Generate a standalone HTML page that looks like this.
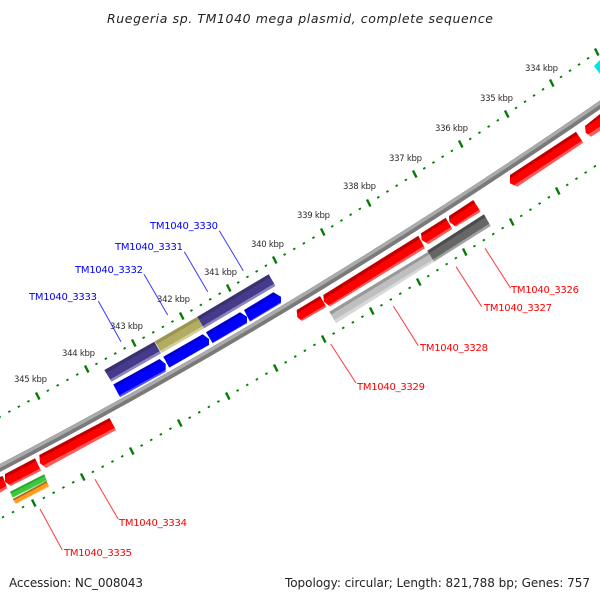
<!DOCTYPE html>
<html><head><meta charset="utf-8"><style>html,body{margin:0;padding:0;background:#fff}svg{display:block}</style></head>
<body>
<svg xmlns="http://www.w3.org/2000/svg" width="600" height="600" viewBox="0 0 600 600" font-family="'DejaVu Sans',sans-serif">
<defs>
<linearGradient id="gR"><stop offset=".24" stop-color="#c00000"/><stop offset=".24" stop-color="#f00"/><stop offset=".82" stop-color="#f00"/><stop offset=".82" stop-color="#ff5a5a"/></linearGradient>
<linearGradient id="gB"><stop offset=".2" stop-color="#0000c8"/><stop offset=".2" stop-color="#00f"/><stop offset=".85" stop-color="#00f"/><stop offset=".85" stop-color="#5050ff"/></linearGradient>
<linearGradient id="gP"><stop offset=".25" stop-color="#3a3170"/><stop offset=".25" stop-color="#463a8c"/><stop offset=".8" stop-color="#463a8c"/><stop offset=".8" stop-color="#8a84b8"/></linearGradient>
<linearGradient id="gO"><stop offset=".25" stop-color="#9a954f"/><stop offset=".25" stop-color="#b3ad62"/><stop offset=".8" stop-color="#b3ad62"/><stop offset=".8" stop-color="#d2cf9c"/></linearGradient>
<linearGradient id="gL"><stop offset=".25" stop-color="#999"/><stop offset=".25" stop-color="#bfbfbf"/><stop offset=".8" stop-color="#bfbfbf"/><stop offset=".8" stop-color="#d8d8d8"/></linearGradient>
<linearGradient id="gD"><stop offset=".25" stop-color="#4c4c4c"/><stop offset=".25" stop-color="#666"/><stop offset=".8" stop-color="#666"/><stop offset=".8" stop-color="#a0a0a0"/></linearGradient>
<linearGradient id="gG"><stop offset=".25" stop-color="#2da62d"/><stop offset=".25" stop-color="#3cc83c"/><stop offset=".8" stop-color="#3cc83c"/><stop offset=".8" stop-color="#70dc70"/></linearGradient>
<linearGradient id="gY"><stop offset=".25" stop-color="#b06a20"/><stop offset=".25" stop-color="#ff9c1e"/><stop offset=".8" stop-color="#ff9c1e"/><stop offset=".8" stop-color="#ffc468"/></linearGradient>
<linearGradient id="b1" href="#gB" gradientUnits="userSpaceOnUse" x1="159.5" y1="359" x2="166.5" y2="371.6"/>
<linearGradient id="b2" href="#gB" gradientUnits="userSpaceOnUse" x1="202.7" y1="334.3" x2="209.8" y2="346.8"/>
<linearGradient id="b3" href="#gB" gradientUnits="userSpaceOnUse" x1="240" y1="312.3" x2="247.3" y2="324.7"/>
<linearGradient id="b4" href="#gB" gradientUnits="userSpaceOnUse" x1="273.3" y1="292.3" x2="280.8" y2="304.7"/>
<linearGradient id="p1" href="#gP" gradientUnits="userSpaceOnUse" x1="268.7" y1="274.3" x2="275.6" y2="285.9"/>
<linearGradient id="o1" href="#gO" gradientUnits="userSpaceOnUse" x1="197.3" y1="316.7" x2="204.1" y2="328.4"/>
<linearGradient id="p2" href="#gP" gradientUnits="userSpaceOnUse" x1="154.3" y1="341.7" x2="161" y2="353.4"/>
<linearGradient id="r1" href="#gR" gradientUnits="userSpaceOnUse" x1="320" y1="296" x2="326.6" y2="307"/>
<linearGradient id="r2" href="#gR" gradientUnits="userSpaceOnUse" x1="418.3" y1="235.7" x2="425.8" y2="247.7"/>
<linearGradient id="r3" href="#gR" gradientUnits="userSpaceOnUse" x1="445.7" y1="217.7" x2="452.6" y2="228.7"/>
<linearGradient id="r4" href="#gR" gradientUnits="userSpaceOnUse" x1="473.3" y1="200" x2="480.9" y2="211.5"/>
<linearGradient id="r5" href="#gR" gradientUnits="userSpaceOnUse" x1="576" y1="131.7" x2="583.2" y2="142.7"/>
<linearGradient id="r6" href="#gR" gradientUnits="userSpaceOnUse" x1="600" y1="114" x2="607" y2="125"/>
<linearGradient id="l1" href="#gR" gradientUnits="userSpaceOnUse" x1="109.5" y1="418" x2="115.8" y2="430"/>
<linearGradient id="l2" href="#gR" gradientUnits="userSpaceOnUse" x1="35" y1="458.3" x2="41.4" y2="470.5"/>
<linearGradient id="l3" href="#gR" gradientUnits="userSpaceOnUse" x1="2.7" y1="476" x2="8.7" y2="487.3"/>
<linearGradient id="g1" href="#gL" gradientUnits="userSpaceOnUse" x1="428.3" y1="251.7" x2="434.3" y2="261.5"/>
<linearGradient id="g2" href="#gD" gradientUnits="userSpaceOnUse" x1="484" y1="214.3" x2="491.2" y2="225.6"/>
<linearGradient id="g3" href="#gG" gradientUnits="userSpaceOnUse" x1="44.3" y1="474.3" x2="47.6" y2="480.7"/>
<linearGradient id="g4" href="#gY" gradientUnits="userSpaceOnUse" x1="46.7" y1="481" x2="49.7" y2="486.6"/>
</defs>

<!-- backbone -->
<path d="M-10 473.2Q300 312.3 610 98" fill="none" stroke="#7a7a7a" stroke-width="7.2"/>
<path d="M-10 473.2Q300 312.3 610 98" fill="none" stroke="#ababab" stroke-width="3.2" transform="translate(-.9,-1.5)"/>

<!-- upper scale -->
<g stroke="#007d00" fill="none">
<path stroke-width="2.4" d="M36 392.5l3.5 7M85 365.5l3.5 7M132 339.5l3.5 7M180 312.5l3.5 7M227 284.5l3.5 7M273 256.5l3.5 7M321 228.5l3.5 7M367 199.5l3.5 7M413 170.5l3.5 7M459 140.5l3.5 7M505 110.5l3.5 7M550 79.5l3.5 7M595 48.5l3.5 7"/>
<path stroke-width="2.4" d="M-.8 416.2l.9 1.6M8.9 410.8l.9 1.6M18.4 405.8l.9 1.6M28 400.5l.9 1.6M47.4 389.8l.9 1.6M57.2 384.5l.9 1.6M67 379.1l.9 1.6M76.8 373.7l.9 1.6M96 363.1l.9 1.6M105.4 357.9l.9 1.6M114.8 352.7l.9 1.6M124.2 347.5l.9 1.6M143.2 336.9l.9 1.6M152.8 331.5l.9 1.6M162.4 326.1l.9 1.6M172 320.7l.9 1.6M191 309.7l.9 1.6M200.4 304.1l.9 1.6M209.8 298.5l.9 1.6M219.2 292.9l.9 1.6M237.8 281.7l.9 1.6M247 276.1l.9 1.6M256.2 270.5l.9 1.6M265.4 264.9l.9 1.6M284.2 253.7l.9 1.6M293.8 248.1l.9 1.6M303.4 242.5l.9 1.6M313 236.9l.9 1.6M331.8 225.5l.9 1.6M341 219.7l.9 1.6M350.2 213.9l.9 1.6M359.4 208.1l.9 1.6M377.8 196.5l.9 1.6M387 190.7l.9 1.6M396.2 184.9l.9 1.6M405.4 179.1l.9 1.6M423.8 167.5l.9 1.6M433 161.7l.9 1.6M442.2 155.9l.9 1.6M451.4 150.1l.9 1.6M469.8 138.1l.9 1.6M479 131.9l.9 1.6M488.2 125.7l.9 1.6M497.4 119.5l.9 1.6M515.6 107.1l.9 1.6M524.6 100.9l.9 1.6M533.6 94.7l.9 1.6M542.6 88.5l.9 1.6M560.6 76.1l.9 1.6M569.6 69.9l.9 1.6M578.6 63.7l.9 1.6M587.6 57.5l.9 1.6"/>
<!-- lower scale -->
<path stroke-width="2.4" d="M32 499.5l3.5 7M81 473.5l3.5 7M130 447.5l3.5 7M178 419.5l3.5 7M226 392.5l3.5 7M274 364.5l3.5 7M322 335.5l3.5 7M370 307.5l3.5 7M417 278.5l3.5 7M463 248.5l3.5 7M510 218.5l3.5 7M556 187.5l3.5 7M602 156.5l3.5 7"/>
<path stroke-width="2.4" d="M2.6 516.3l.9 1.6M12.6 511.3l.9 1.6M22.6 506.3l.9 1.6M43.4 497.1l.9 1.6M53.2 491.9l.9 1.6M63 486.7l.9 1.6M72.8 481.5l.9 1.6M92.4 471.1l.9 1.6M102.2 465.9l.9 1.6M112 460.7l.9 1.6M121.8 455.5l.9 1.6M141.2 444.7l.9 1.6M150.8 439.1l.9 1.6M160.4 433.5l.9 1.6M170 427.9l.9 1.6M189.2 416.9l.9 1.6M198.8 411.5l.9 1.6M208.4 406.1l.9 1.6M218 400.7l.9 1.6M237.2 389.7l.9 1.6M246.8 384.1l.9 1.6M256.4 378.5l.9 1.6M266 372.9l.9 1.6M285.2 361.5l.9 1.6M294.8 355.7l.9 1.6M304.4 349.9l.9 1.6M314 344.1l.9 1.6M333.2 332.7l.9 1.6M342.8 327.1l.9 1.6M352.4 321.5l.9 1.6M362 315.9l.9 1.6M381 304.5l.9 1.6M390.4 298.7l.9 1.6M399.8 292.9l.9 1.6M409.2 287.1l.9 1.6M427.8 275.3l.9 1.6M437 269.3l.9 1.6M446.2 263.3l.9 1.6M455.4 257.3l.9 1.6M474 245.3l.9 1.6M483.4 239.3l.9 1.6M492.8 233.3l.9 1.6M502.2 227.3l.9 1.6M520.8 215.1l.9 1.6M530 208.9l.9 1.6M539.2 202.7l.9 1.6M548.4 196.5l.9 1.6M566.8 184.1l.9 1.6M576 177.9l.9 1.6M585.2 171.7l.9 1.6M594.4 165.5l.9 1.6"/>
</g>

<!-- purple / olive -->
<polygon points="104.3,370 154.3,341.7 161,353.4 111.5,381.7" fill="url(#p2)"/>
<polygon points="154.8,341.4 197.3,316.7 204,328.4 161.5,353.1" fill="url(#o1)"/>
<polygon points="197.3,316.7 268.7,274.3 275.5,286 204,328.4" fill="url(#p1)"/>
<!-- blue arrows -->
<polygon points="113.3,384.5 159.5,359 165.7,364 165.7,371.7 120,397.3" fill="url(#b1)"/>
<polygon points="163.3,356.7 202.7,334.3 209,339 209,345 169.3,367.7" fill="url(#b2)"/>
<polygon points="206,332.3 240,312.3 247,316.7 247,323.3 212.7,343.3" fill="url(#b3)"/>
<polygon points="244,310 273.3,292.3 281,296.7 281,303.3 250,321.7" fill="url(#b4)"/>
<!-- red arrows -->
<polygon points="296.7,310 320,296 326.5,307 302,321 297.3,317.3" fill="url(#r1)"/>
<polygon points="323.3,295 418.3,235.7 425,248.3 330,306.5 324,301.7" fill="url(#r2)"/>
<polygon points="421,233.3 445.7,217.7 452.3,229 428.3,244.3 421.7,240" fill="url(#r3)"/>
<polygon points="449,216 473.3,200 480.7,211.7 455.7,226.7 449.3,221.7" fill="url(#r4)"/>
<polygon points="510,175 576,131.7 583.3,142.7 517.3,186.7 510,183.3" fill="url(#r5)"/>
<polygon points="585,126 600,114 600,131 591,136.7 585.7,132.7" fill="url(#r6)"/>
<polygon points="39.3,455 109.5,418 116,430 46,468 40,463.3" fill="url(#l1)"/>
<polygon points="5,474 35,458.3 41,470.7 10.7,486 5,481.7" fill="url(#l2)"/>
<polygon points="-2,477.5 2.7,476 7.3,488.3 0,492.7 -2,492.7" fill="url(#l3)"/>
<!-- gray -->
<polygon points="329.3,311.7 428.3,251.7 434,261.7 336,323.3" fill="url(#g1)"/>
<polygon points="427.3,250.7 484,214.3 490.7,226 434,261.7" fill="url(#g2)"/>
<!-- green / orange -->
<polygon points="10,491.7 44.3,474.3 47,481 12.7,497.7" fill="url(#g3)"/>
<polygon points="12.7,499 46.7,481 49.3,486.7 16,504" fill="url(#g4)"/>
<!-- cyan -->
<polygon points="594,66 600,60 600,74" fill="#00e6e6"/>

<!-- leaders -->
<g stroke="#3a3aff" stroke-width="1" fill="none">
<line x1="219.3" y1="230.7" x2="243.3" y2="270.7"/>
<line x1="184.3" y1="251.7" x2="207.7" y2="291.7"/>
<line x1="144" y1="274.3" x2="167.7" y2="315"/>
<line x1="98.3" y1="301" x2="121" y2="341.7"/>
</g>
<g stroke="#ff3a3a" stroke-width="1" fill="none">
<line x1="485" y1="248.3" x2="510.7" y2="288.3"/>
<line x1="456" y1="266.7" x2="481.7" y2="306.7"/>
<line x1="393.3" y1="306" x2="418.3" y2="345.7"/>
<line x1="330.7" y1="344" x2="356" y2="383"/>
<line x1="95" y1="479.3" x2="118.3" y2="519.3"/>
<line x1="40" y1="509" x2="62.3" y2="550"/>
</g>

<!-- labels -->
<g font-size="10" fill="#0000ff">
<text x="150" y="229" textLength="68" lengthAdjust="spacing">TM1040_3330</text>
<text x="115" y="250" textLength="68" lengthAdjust="spacing">TM1040_3331</text>
<text x="75" y="273" textLength="68" lengthAdjust="spacing">TM1040_3332</text>
<text x="29" y="300" textLength="68" lengthAdjust="spacing">TM1040_3333</text>
</g>
<g font-size="10" fill="#ff0000">
<text x="511" y="293" textLength="68" lengthAdjust="spacing">TM1040_3326</text>
<text x="484" y="311" textLength="68" lengthAdjust="spacing">TM1040_3327</text>
<text x="420" y="351" textLength="68" lengthAdjust="spacing">TM1040_3328</text>
<text x="357" y="390" textLength="68" lengthAdjust="spacing">TM1040_3329</text>
<text x="119" y="526" textLength="68" lengthAdjust="spacing">TM1040_3334</text>
<text x="64" y="556" textLength="68" lengthAdjust="spacing">TM1040_3335</text>
</g>
<g font-size="8.5" fill="#2a2a2a">
<text x="525" y="71" textLength="33" lengthAdjust="spacing">334 kbp</text>
<text x="480" y="101" textLength="33" lengthAdjust="spacing">335 kbp</text>
<text x="435" y="131" textLength="33" lengthAdjust="spacing">336 kbp</text>
<text x="389" y="161" textLength="33" lengthAdjust="spacing">337 kbp</text>
<text x="343" y="189" textLength="33" lengthAdjust="spacing">338 kbp</text>
<text x="297" y="218" textLength="33" lengthAdjust="spacing">339 kbp</text>
<text x="251" y="247" textLength="33" lengthAdjust="spacing">340 kbp</text>
<text x="204" y="275" textLength="33" lengthAdjust="spacing">341 kbp</text>
<text x="157" y="302" textLength="33" lengthAdjust="spacing">342 kbp</text>
<text x="110" y="329" textLength="33" lengthAdjust="spacing">343 kbp</text>
<text x="62" y="356" textLength="33" lengthAdjust="spacing">344 kbp</text>
<text x="14" y="382" textLength="33" lengthAdjust="spacing">345 kbp</text>
</g>
<text x="107" y="23" font-size="12.5" font-style="italic" fill="#222" textLength="386" lengthAdjust="spacing">Ruegeria sp. TM1040 mega plasmid, complete sequence</text>
<text x="9" y="587" font-size="12" fill="#222" textLength="134" lengthAdjust="spacing">Accession: NC_008043</text>
<text x="285" y="587" font-size="12" fill="#222" textLength="305" lengthAdjust="spacing">Topology: circular; Length: 821,788 bp; Genes: 757</text>
</svg>
</body></html>
